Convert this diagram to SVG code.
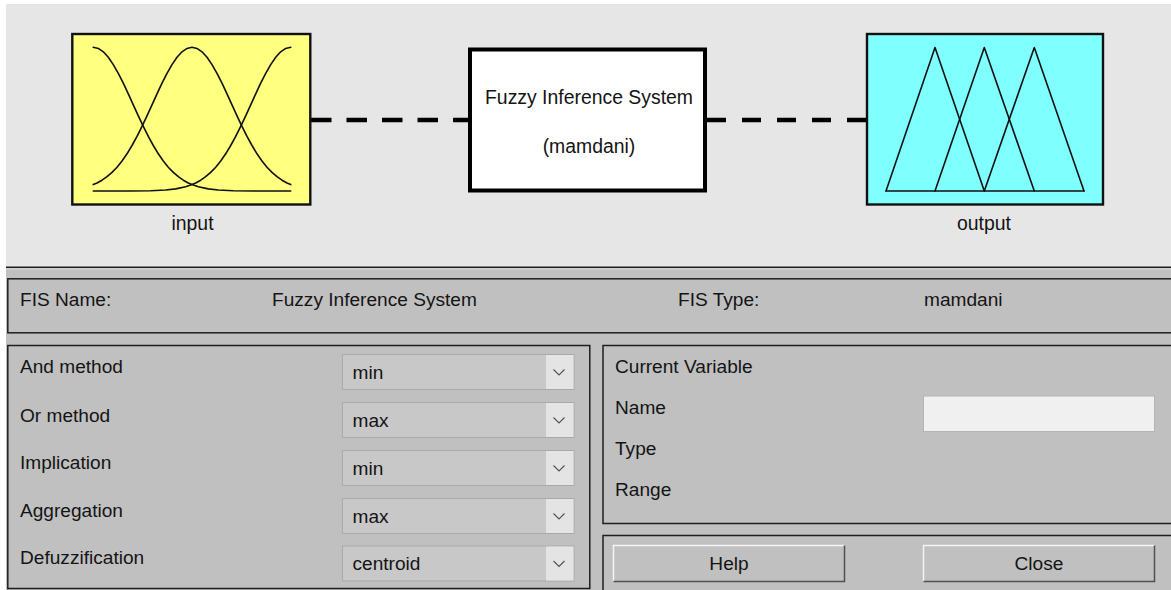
<svg xmlns="http://www.w3.org/2000/svg" width="1171" height="590" viewBox="0 0 1171 590">
  <style>
    text { font-family: "Liberation Sans", Arial, sans-serif; fill: #141414; }
    .top { font-size: 19.4px; }
    .lbl { font-size: 19.1px; }
    .mid { text-anchor: middle; }
    .mf { fill: none; stroke: #111; stroke-width: 1.6; stroke-linejoin: round; stroke-linecap: round; }
    .panel { fill: #c0c0c0; stroke: #1e1e1e; stroke-width: 1.5; }
    .dd { fill: #c8c8c8; stroke: #a9a9a9; stroke-width: 1; }
    .dda { fill: #e4e4e4; }
    .chev { fill: none; stroke: #555; stroke-width: 1.2; }
    .dash { fill: none; stroke: #000; stroke-width: 4.5; stroke-dasharray: 20.5 15; }
    .btn { fill: #c0c0c0; }
  </style>

  <!-- window background -->
  <rect x="0" y="0" width="1171" height="590" fill="#ffffff"/>
  <rect x="6" y="4" width="1165" height="264" fill="#e6e6e6"/>
  <rect x="6" y="268" width="1165" height="322" fill="#c0c0c0"/>
  <line x1="6" y1="267.3" x2="1171" y2="267.3" stroke="#1e1e1e" stroke-width="1.6"/>
  <line x1="6" y1="269" x2="1171" y2="269" stroke="#d8d8d8" stroke-width="1"/>

  <!-- connectors -->
  <g id="connectors">
    <path class="dash" d="M311,120 H468"/>
    <path class="dash" d="M707,120 H867" style="stroke-dasharray: 19 16"/>
  </g>

  <!-- input node -->
  <g id="input">
    <rect x="72.3" y="34" width="238" height="170.5" fill="#ffff80" stroke="#111" stroke-width="2.4"/>
    <polyline class="mf" points="93.3,47.3 98.3,48.45 103.3,51.8 108.3,57.3 113.3,64.6 118.3,73.3 123.3,83.2 128.3,93.9 133.3,104.9 138.3,115.8 143.3,126.4 148.3,136.4 153.3,145.5 158.3,153.8 163.3,161 168.3,167.2 173.3,172.4 178.3,176.7 183.3,180.2 188.3,183 192,184.6 198.3,186.8 208.3,188.9 218.3,190 233.3,190.7 253.3,191 290.7,191"/>
    <polyline class="mf" points="93.3,184.6 97,183 102,180.2 107,176.7 112,172.4 117,167.2 122,161 127,153.8 132,145.5 137,136.4 142,126.4 147,115.8 152,104.9 157,93.9 162,83.2 167,73.3 172,64.6 177,57.3 182,51.8 187,48.45 192,47.3 197,48.45 202,51.8 207,57.3 212,64.6 217,73.3 222,83.2 227,93.9 232,104.9 237,115.8 242,126.4 247,136.4 252,145.5 257,153.8 262,161 267,167.2 272,172.4 277,176.7 282,180.2 287,183 290.7,184.6"/>
    <polyline class="mf" points="93.3,191 130.7,191 150.7,190.7 165.7,190 175.7,188.9 185.7,186.8 192,184.6 195.7,183 200.7,180.2 205.7,176.7 210.7,172.4 215.7,167.2 220.7,161 225.7,153.8 230.7,145.5 235.7,136.4 240.7,126.4 245.7,115.8 250.7,104.9 255.7,93.9 260.7,83.2 265.7,73.3 270.7,64.6 275.7,57.3 280.7,51.8 285.7,48.45 290.7,47.3"/>
    <text class="top mid" x="192.5" y="230">input</text>
  </g>

  <!-- FIS node -->
  <g id="fis">
    <rect x="470" y="49.5" width="235" height="141" fill="#ffffff" stroke="#000" stroke-width="4"/>
    <text class="top mid" x="589" y="104">Fuzzy Inference System</text>
    <text class="top mid" x="589" y="153">(mamdani)</text>
  </g>

  <!-- output node -->
  <g id="output">
    <rect x="867" y="34" width="236" height="170.5" fill="#80ffff" stroke="#111" stroke-width="2.4"/>
    <polyline class="mf" points="886,191 935,47.5 984.3,191"/>
    <polyline class="mf" points="935,191 984.3,47.5 1034.3,191"/>
    <polyline class="mf" points="984.3,191 1034.3,47.5 1084,191"/>
    <line class="mf" x1="886" y1="191" x2="1084" y2="191"/>
    <text class="top mid" x="984" y="230">output</text>
  </g>

  <!-- FIS name / type panel -->
  <g id="fis-info">
    <rect class="panel" x="7.8" y="278.8" width="1175" height="54"/>
    <text class="lbl" x="20" y="306">FIS Name:</text>
    <text class="lbl" x="272" y="306">Fuzzy Inference System</text>
    <text class="lbl" x="678" y="306">FIS Type:</text>
    <text class="lbl" x="924" y="306">mamdani</text>
  </g>

  <!-- methods panel -->
  <g id="methods">
    <rect class="panel" x="7.8" y="345.5" width="582" height="243"/>
    <text class="lbl" x="20" y="373">And method</text>
    <text class="lbl" x="20" y="421.5">Or method</text>
    <text class="lbl" x="20" y="469">Implication</text>
    <text class="lbl" x="20" y="516.7">Aggregation</text>
    <text class="lbl" x="20" y="564.3">Defuzzification</text>

    <g id="dd-and">
      <rect class="dd" x="342.5" y="354.5" width="231.5" height="35"/>
      <rect class="dda" x="546" y="355" width="27.5" height="34"/>
      <polyline class="chev" points="553.5,369.5 559,375 564.5,369.5"/>
      <text class="lbl" x="352.5" y="378.5">min</text>
    </g>
    <g id="dd-or">
      <rect class="dd" x="342.5" y="402.5" width="231.5" height="35"/>
      <rect class="dda" x="546" y="403" width="27.5" height="34"/>
      <polyline class="chev" points="553.5,417.5 559,423 564.5,417.5"/>
      <text class="lbl" x="352.5" y="426.5">max</text>
    </g>
    <g id="dd-imp">
      <rect class="dd" x="342.5" y="450.5" width="231.5" height="35"/>
      <rect class="dda" x="546" y="451" width="27.5" height="34"/>
      <polyline class="chev" points="553.5,465.5 559,471 564.5,465.5"/>
      <text class="lbl" x="352.5" y="474.5">min</text>
    </g>
    <g id="dd-agg">
      <rect class="dd" x="342.5" y="498.5" width="231.5" height="35"/>
      <rect class="dda" x="546" y="499" width="27.5" height="34"/>
      <polyline class="chev" points="553.5,513.5 559,519 564.5,513.5"/>
      <text class="lbl" x="352.5" y="522.5">max</text>
    </g>
    <g id="dd-def">
      <rect class="dd" x="342.5" y="546" width="231.5" height="35"/>
      <rect class="dda" x="546" y="546.5" width="27.5" height="34"/>
      <polyline class="chev" points="553.5,561 559,566.5 564.5,561"/>
      <text class="lbl" x="352.5" y="570">centroid</text>
    </g>
  </g>

  <!-- current variable panel -->
  <g id="current-variable">
    <rect class="panel" x="603" y="345.5" width="580" height="178"/>
    <text class="lbl" x="615" y="373">Current Variable</text>
    <text class="lbl" x="615" y="414">Name</text>
    <text class="lbl" x="615" y="455">Type</text>
    <text class="lbl" x="615" y="496">Range</text>
    <rect x="923.5" y="396" width="231" height="35.5" fill="#f0f0f0" stroke="#b4b4b4" stroke-width="1"/>
  </g>

  <!-- buttons panel -->
  <g id="buttons">
    <rect class="panel" x="603" y="535.5" width="580" height="60"/>
    <g id="help-btn">
      <rect class="btn" x="613" y="545" width="232" height="37"/>
      <path d="M613.5,581.5 V545.5 H844.5" fill="none" stroke="#f4f4f4" stroke-width="1.5"/>
      <path d="M613.5,581.5 H844.5 V545.5" fill="none" stroke="#505050" stroke-width="1.5"/>
      <text class="lbl mid" x="729" y="570">Help</text>
    </g>
    <g id="close-btn">
      <rect class="btn" x="923" y="545" width="232" height="37"/>
      <path d="M923.5,581.5 V545.5 H1154.5" fill="none" stroke="#f4f4f4" stroke-width="1.5"/>
      <path d="M923.5,581.5 H1154.5 V545.5" fill="none" stroke="#505050" stroke-width="1.5"/>
      <text class="lbl mid" x="1039" y="570">Close</text>
    </g>
  </g>
</svg>
